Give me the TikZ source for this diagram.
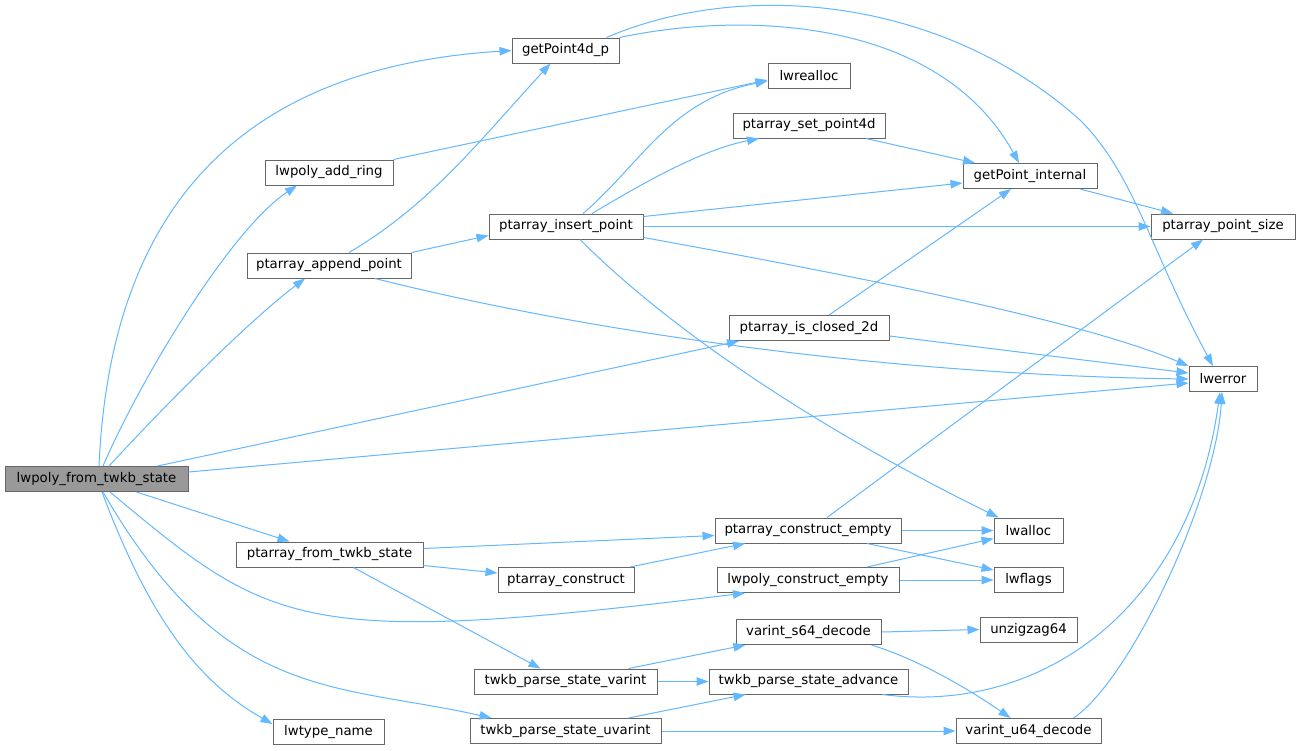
\documentclass[tikz,border=0pt]{standalone}
\usepackage{fontspec}
\setmainfont{DejaVu Sans}
\usepackage{tikz}
\usetikzlibrary{arrows.meta}
\usepackage{xcolor}
\definecolor{edgeblue}{HTML}{63B8FF}
\definecolor{frame}{HTML}{666666}
\definecolor{rootgray}{HTML}{999999}
\tikzset{
  fn/.style={draw=frame,fill=white,line width=1pt,inner sep=0pt,
    minimum height=25pt,font=\fontsize{13.3}{16}\selectfont},
  root/.style={fn,fill=rootgray},
  call/.style={-{Triangle[length=12pt,width=8.5pt]},draw=edgeblue,line width=1pt}
}

\begin{document}
\begin{tikzpicture}[x=1pt,y=-1pt]
  \fill[white] (0,0) rectangle (1297,750);
  \useasboundingbox (0,0) rectangle (1297,750);
  % functions
  \node[root,minimum width=183pt] (src) at (96.5,479) {lwpoly\_from\_twkb\_state};
  \node[fn,minimum width=107pt] (getpt4d) at (565.5,50.5) {getPoint4d\_p};
  \node[fn,minimum width=82pt] (lwrealloc) at (809,76) {lwrealloc};
  \node[fn,minimum width=128pt] (addring) at (329,172.5) {lwpoly\_add\_ring};
  \node[fn,minimum width=152pt] (setpt4d) at (809,125.5) {ptarray\_set\_point4d};
  \node[fn,minimum width=134pt] (getptint) at (1030,176) {getPoint\_internal};
  \node[fn,minimum width=154pt] (insertpt) at (566,226.5) {ptarray\_insert\_point};
  \node[fn,minimum width=164pt] (appendpt) at (329,265.5) {ptarray\_append\_point};
  \node[fn,minimum width=144pt] (ptsize) at (1223,226.5) {ptarray\_point\_size};
  \node[fn,minimum width=160pt] (closed2d) at (809,328) {ptarray\_is\_closed\_2d};
  \node[fn,minimum width=68pt] (lwerror) at (1223,379) {lwerror};
  \node[fn,minimum width=186pt] (ctorempty) at (808,530.5) {ptarray\_construct\_empty};
  \node[fn,minimum width=69pt] (lwalloc) at (1028.5,530.5) {lwalloc};
  \node[fn,minimum width=187pt] (fromtwkb) at (329.5,554.5) {ptarray\_from\_twkb\_state};
  \node[fn,minimum width=136pt] (ctor) at (566,580) {ptarray\_construct};
  \node[fn,minimum width=182pt] (polyempty) at (808,580) {lwpoly\_construct\_empty};
  \node[fn,minimum width=69pt] (lwflags) at (1028.5,580) {lwflags};
  \node[fn,minimum width=145pt] (s64dec) at (808.5,632) {varint\_s64\_decode};
  \node[fn,minimum width=97pt] (unzig) at (1028.5,629.5) {unzigzag64};
  \node[fn,minimum width=183pt] (stvarint) at (565.5,681.5) {twkb\_parse\_state\_varint};
  \node[fn,minimum width=199pt] (stadvance) at (808.5,681.5) {twkb\_parse\_state\_advance};
  \node[fn,minimum width=111pt] (typename) at (328.5,732) {lwtype\_name};
  \node[fn,minimum width=191pt] (stuvarint) at (565.5,731) {twkb\_parse\_state\_uvarint};
  \node[fn,minimum width=145pt] (u64dec) at (1028.5,731) {varint\_u64\_decode};
  % calls from lwpoly_from_twkb_state
  \draw[call] ([xshift=2.5pt]src.north) .. controls (112,170) and (280,65) .. (getpt4d.west);
  \draw[call] ([xshift=6.5pt]src.north) .. controls (140,380) and (230,230) .. ([xshift=-32pt]addring.south);
  \draw[call] ([xshift=12.5pt]src.north) .. controls (170,400) and (250,320) .. ([xshift=-24pt]appendpt.south);
  \draw[call] ([xshift=61pt]src.north) -- ([xshift=-70pt]closed2d.south);
  \draw[call] ([yshift=7pt]src.east) -- ([yshift=-4pt]lwerror.west);
  \draw[call] ([xshift=40pt]src.south) -- ([xshift=-40pt]fromtwkb.north);
  \draw[call] ([xshift=13.5pt]src.south) .. controls (272,627) and (298,648) .. ([xshift=-63pt]polyempty.south);
  \draw[call] ([xshift=6.5pt]src.south) .. controls (225,703) and (336,683) .. ([xshift=-74pt]stuvarint.north);
  \draw[call] ([xshift=5.5pt]src.south) .. controls (148,614) and (195,680) .. ([yshift=8pt]typename.west);
  % upper part
  \draw[call] ([xshift=41pt]getpt4d.north) .. controls (740,-20) and (940,-5) .. (1080,120)
    .. controls (1135,175) and (1150,250) .. ([xshift=-10pt]lwerror.north);
  \draw[call] (getpt4d.north east) .. controls (750,10) and (940,20) .. ([xshift=-11pt]getptint.north);
  \draw[call] (addring.north east) -- ([yshift=-4pt]lwrealloc.west);
  \draw[call] ([xshift=20pt]appendpt.north) .. controls (430,205) and (480,140) .. ([xshift=-15pt]getpt4d.south);
  \draw[call] (appendpt.north east) -- ([yshift=-9pt]insertpt.west);
  \draw[call] ([xshift=46pt]appendpt.south) .. controls (600,335) and (900,375) .. (lwerror.west);
  \draw[call] ([xshift=17pt]insertpt.north) .. controls (640,165) and (670,100) .. ([yshift=-5pt]lwrealloc.west);
  \draw[call] ([xshift=26pt]insertpt.north) .. controls (640,185) and (700,150) .. ([xshift=-50pt]setpt4d.south);
  \draw[call] ([yshift=10pt]insertpt.east) -- ([yshift=-7pt]getptint.west);
  \draw[call] (insertpt.east) -- (ptsize.west);
  \draw[call] ([yshift=-11pt]insertpt.east) .. controls (850,275) and (1080,320) .. (lwerror.north west);
  \draw[call] ([xshift=14pt]insertpt.south) .. controls (660,320) and (800,420) .. ([xshift=-30pt]lwalloc.north);
  \draw[call] ([xshift=57pt]setpt4d.south) -- ([xshift=-55pt]getptint.north);
  \draw[call] ([xshift=50pt]getptint.south) -- ([xshift=-50pt]ptsize.north);
  \draw[call] ([xshift=20pt]closed2d.north) -- ([xshift=-19pt]getptint.south);
  \draw[call] ([yshift=-8pt]closed2d.east) -- ([yshift=6pt]lwerror.west);
  % lower part
  \draw[call] ([xshift=19pt]ctorempty.north) -- ([xshift=-20pt]ptsize.south);
  \draw[call] (ctorempty.east) -- (lwalloc.west);
  \draw[call] ([xshift=59pt]ctorempty.south) -- ([yshift=10pt]lwflags.west);
  \draw[call] ([yshift=6pt]fromtwkb.east) -- ([yshift=-5pt]ctorempty.west);
  \draw[call] ([yshift=-11pt]fromtwkb.east) -- ([yshift=7pt]ctor.west);
  \draw[call] ([xshift=24pt]fromtwkb.south) -- ([xshift=-25pt]stvarint.north);
  \draw[call] ([xshift=64pt]ctor.north) -- ([xshift=-63pt]ctorempty.south);
  \draw[call] ([xshift=59pt]polyempty.north) -- ([yshift=-8pt]lwalloc.west);
  \draw[call] (polyempty.east) -- (lwflags.west);
  \draw[call] (s64dec.east) -- (unzig.west);
  \draw[call] ([xshift=63pt]s64dec.south) .. controls (920,660) and (970,690) .. ([xshift=-18pt]u64dec.north);
  \draw[call] ([xshift=63pt]stvarint.north) -- ([xshift=-63pt]s64dec.south);
  \draw[call] (stvarint.east) -- (stadvance.west);
  \draw[call] ([xshift=74pt]stadvance.south) .. controls (1040,715) and (1190,610) .. ([xshift=-3pt]lwerror.south);
  \draw[call] ([xshift=63pt]stuvarint.north) -- ([xshift=-63pt]stadvance.south);
  \draw[call] (stuvarint.east) -- (u64dec.west);
  \draw[call] ([xshift=45pt]u64dec.north) .. controls (1130,680) and (1215,500) .. ([xshift=-1pt]lwerror.south);
\end{tikzpicture}
\end{document}
